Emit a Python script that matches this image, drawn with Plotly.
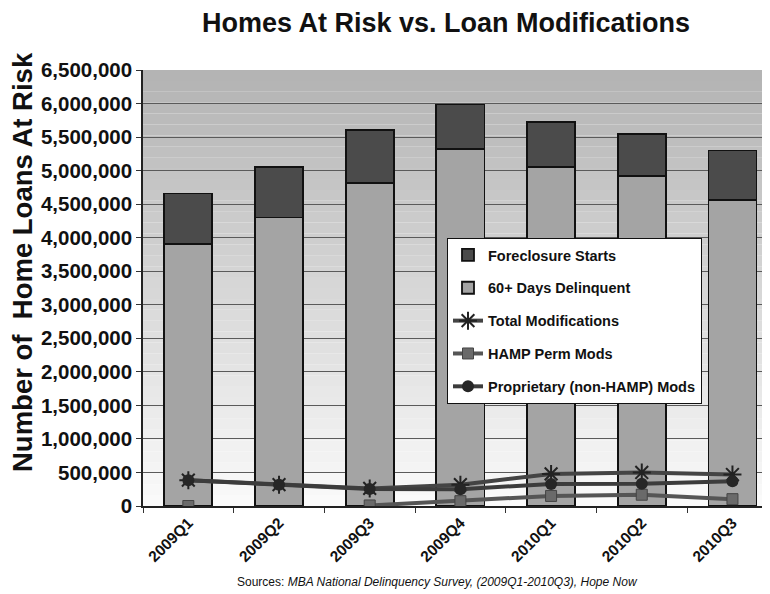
import plotly.graph_objects as go

quarters = ["2009Q1", "2009Q2", "2009Q3", "2009Q4", "2010Q1", "2010Q2", "2010Q3"]
delinquent_60 = [3910000, 4300000, 4810000, 5325000, 5050000, 4925000, 4560000]
foreclosure_starts = [750000, 750000, 790000, 660000, 675000, 625000, 740000]
total_mods = [385000, 318000, 262000, 318000, 478000, 500000, 470000]
hamp_perm = [0, None, 8000, 72000, 150000, 168000, 102000]
proprietary = [385000, 318000, 252000, 250000, 328000, 330000, 368000]
y_ticks = [0, 500000, 1000000, 1500000, 2000000, 2500000, 3000000, 3500000,
           4000000, 4500000, 5000000, 5500000, 6000000, 6500000]
y_tick_text = ["{:,}".format(v) for v in y_ticks]

FONT = "Liberation Sans, Arial, sans-serif"

# the page body adds an 8px offset; the figure is sized so it fits the window
OFF = 8
W, H = 770 - OFF, 594 - OFF
PL, PT, PB = 143 - OFF, 70 - OFF, 506 - OFF   # plot left / top / bottom (figure px)
PW, PH = W - PL, PB - PT


def px_x(x):
    return (x - OFF - PL) / PW


def px_y(y):
    return (PB - (y - OFF)) / PH


fig = go.Figure()

fig.add_trace(go.Bar(
    x=quarters, y=delinquent_60, name="<b>60+ Days Delinquent</b>",
    marker=dict(color="#a4a4a4", line=dict(color="#111111", width=1.8)),
    width=0.53, legendrank=2, legendgroup="b",
))
fig.add_trace(go.Bar(
    x=quarters, y=foreclosure_starts, name="<b>Foreclosure Starts</b>",
    marker=dict(color="#4b4b4b", line=dict(color="#111111", width=1.8)),
    width=0.53, legendrank=1, legendgroup="a",
))
fig.add_trace(go.Scatter(
    x=quarters, y=total_mods, name="<b>Total Modifications</b>", mode="lines+markers",
    line=dict(color="#444444", width=4),
    marker=dict(symbol="asterisk-open", size=15, color="#222222",
                line=dict(color="#222222", width=2)),
    legendrank=3, legendgroup="c",
))
fig.add_trace(go.Scatter(
    x=quarters, y=hamp_perm, name="<b>HAMP Perm Mods</b>", mode="lines+markers",
    line=dict(color="#555555", width=4),
    marker=dict(symbol="square", size=11, color="#6a6a6a",
                line=dict(color="#444444", width=1)),
    connectgaps=False, legendrank=4, legendgroup="d",
))
fig.add_trace(go.Scatter(
    x=quarters, y=proprietary, name="<b>Proprietary (non-HAMP) Mods</b>",
    mode="lines+markers",
    line=dict(color="#3c3c3c", width=4),
    marker=dict(symbol="circle", size=12, color="#262626"),
    legendrank=5, legendgroup="e",
))

# gradient background of the plot area (grey at top to near white at bottom)
shapes = []
n_bands = 40
for i in range(n_bands):
    t = i / (n_bands - 1)
    g = int(250 - (250 - 180) * t)
    shapes.append(dict(
        type="rect", xref="x domain", yref="y domain",
        x0=0, x1=1, y0=i / n_bands, y1=(i + 1) / n_bands,
        fillcolor="rgb({0},{0},{0})".format(g), line=dict(width=0), layer="below",
    ))

fig.update_layout(
    width=W, height=H,
    margin=dict(l=PL, r=0, t=PT, b=H - PB),
    paper_bgcolor="white", plot_bgcolor="white",
    barmode="stack", bargap=0.47,
    font=dict(family=FONT, color="#111111"),
    shapes=shapes,
    title=dict(
        text="<b>Homes At Risk vs. Loan Modifications</b>",
        x=(446 - OFF) / W, xref="container", xanchor="center",
        y=1 - (23 - OFF) / H, yref="container", yanchor="middle",
        font=dict(size=27, family=FONT, color="#111111"),
    ),
    xaxis=dict(
        type="category", range=[-0.5, 6.414],
        tickangle=-45, tickfont=dict(size=15.5, family=FONT, color="#111111"),
        ticks="outside", ticklen=5, tickcolor="#333333", tickson="boundaries",
        showline=True, linecolor="#222222", linewidth=1.5,
        showgrid=False, zeroline=False,
        tickprefix="<b>", ticksuffix="</b>",
    ),
    yaxis=dict(
        range=[0, 6500000], tickvals=y_ticks,
        ticktext=["<b>" + t + "</b>" for t in y_tick_text],
        tickfont=dict(size=20.5, family=FONT, color="#111111"),
        ticks="outside", ticklen=5, tickcolor="#333333",
        showline=True, linecolor="#222222", linewidth=1.5,
        showgrid=True, gridcolor="#5a5a5a", gridwidth=1,
        zeroline=False,
    ),
    legend=dict(
        x=px_x(447), y=px_y(238), xanchor="left", yanchor="top",
        bgcolor="white", bordercolor="#111111", borderwidth=1,
        font=dict(size=14.5, family=FONT, color="#111111"),
        tracegroupgap=11, itemwidth=30, traceorder="grouped",
    ),
    annotations=[
        dict(
            text="<b>Number of  Home Loans At Risk</b>", textangle=-90,
            xref="paper", yref="paper",
            x=px_x(22), y=px_y(262),
            xanchor="center", yanchor="middle", showarrow=False,
            font=dict(size=27.5, family=FONT, color="#111111"),
        ),
        dict(
            text="Sources: <i>MBA National Delinquency Survey, (2009Q1-2010Q3), Hope Now</i>",
            xref="paper", yref="paper",
            x=px_x(437), y=px_y(582),
            xanchor="center", yanchor="middle", showarrow=False,
            font=dict(size=12, family=FONT, color="#111111"),
        ),
    ],
)

fig.write_html("out.html")
